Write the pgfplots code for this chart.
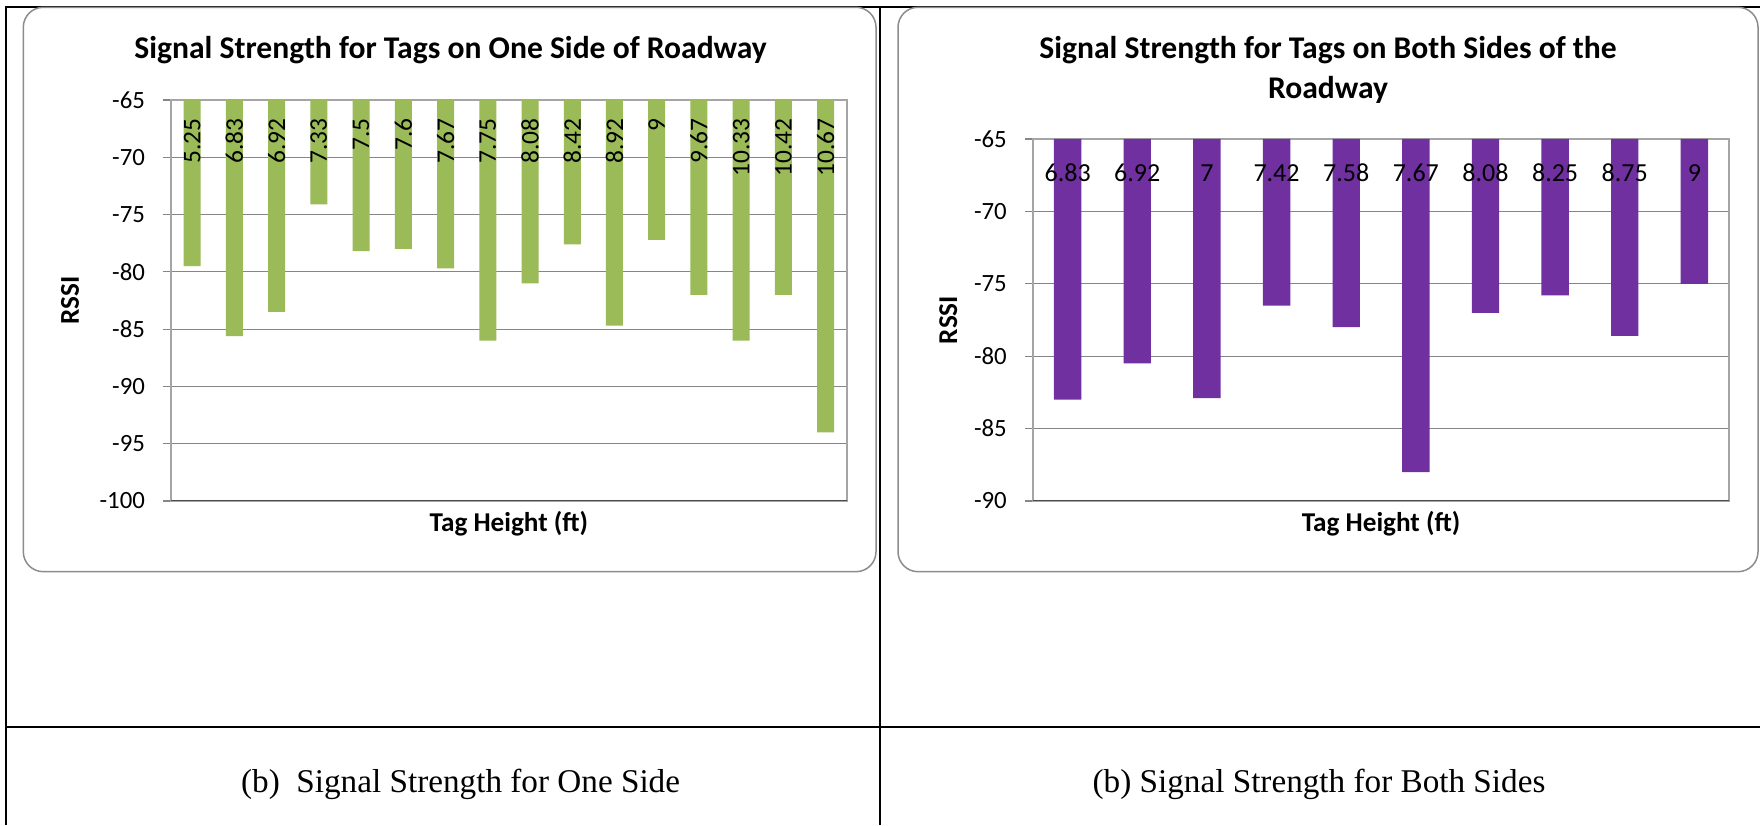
\documentclass[border=0pt]{standalone}
\usepackage{fontspec}
\setmainfont{Carlito}
\newfontfamily\timesfont{Liberation Serif}
\usepackage{pgfplots}
\pgfplotsset{compat=1.18}
\usepackage{pgfplotstable}
\definecolor{barG}{RGB}{155,187,89}
\definecolor{barP}{RGB}{112,48,160}
\definecolor{gridC}{RGB}{134,134,134}
\definecolor{boxC}{RGB}{140,140,140}
\definecolor{yaxC}{RGB}{165,165,165}

\pgfplotstableread{
x lab y
0 5.25 -79.5
1 6.83 -85.6
2 6.92 -83.5
3 7.33 -74.1
4 7.5 -78.2
5 7.6 -78.0
6 7.67 -79.7
7 7.75 -86.0
8 8.08 -81.0
9 8.42 -77.6
10 8.92 -84.7
11 9 -77.2
12 9.67 -82.0
13 10.33 -86.0
14 10.42 -82.0
15 10.67 -94.0
}\tabL

\pgfplotstableread{
x lab y
0 6.83 -83.0
1 6.92 -80.5
2 7 -82.9
3 7.42 -76.5
4 7.58 -78.0
5 7.67 -88.0
6 8.08 -77.0
7 8.25 -75.8
8 8.75 -78.6
9 9 -75.0
}\tabR

\pgfplotsset{rssi/.style={
  scale only axis, anchor=south west,
  xtick=\empty, ytick distance=5,
  ymajorgrids, grid style={gridC, line width=0.6pt},
  x axis line style={draw=gridC, line width=0.6pt},
  y axis line style={draw=yaxC, line width=0.9pt},
  ytick pos=left, tick align=outside, major tick length=4pt,
  ytick style={gridC, line width=0.6pt},
  /pgf/number format/assume math mode=true,
  yticklabel style={font=\fontsize{12.4}{14}\selectfont, xshift=-5.5pt},
  xlabel={Tag Height (ft)}, ylabel={RSSI},
  every axis x label/.style={at={(axis description cs:0.5,0)}, yshift=-11.5pt, anchor=center, font=\bfseries\fontsize{13.6}{16}\selectfont},
}}

\begin{document}
\begin{tikzpicture}
\useasboundingbox (0pt,0pt) rectangle (880pt,412.5pt);
% table lines
\draw[black, line width=1pt] (3pt,0pt) -- (3pt,409.2pt) -- (880pt,409.2pt);
\draw[black, line width=1pt] (440pt,0pt) -- (440pt,409.2pt);
\draw[black, line width=1.1pt] (3pt,49.2pt) -- (880pt,49.2pt);
% chart boxes
\draw[boxC, line width=0.75pt, rounded corners=10pt, fill=white] (11.65pt,126.65pt) rectangle (438pt,408.85pt);
\draw[boxC, line width=0.75pt, rounded corners=10pt, fill=white] (449pt,126.65pt) rectangle (879pt,408.85pt);

% left chart
\begin{axis}[rssi, at={(85.5pt,162pt)}, width=337.9pt, height=200.5pt,
  xmin=-0.5, xmax=15.5, ymin=-100, ymax=-65,
  every axis y label/.style={at={(axis description cs:0,0.5)}, xshift=-50.5pt, rotate=90, anchor=center, font=\bfseries\fontsize{13.6}{16}\selectfont}]
  \addplot[ybar, bar width=8.5pt, fill=barG, draw=none] table[x=x, y=y] {\tabL};
  \addplot[draw=none, mark=none, nodes near coords, point meta=explicit symbolic,
    every node near coord/.style={anchor=east, rotate=90, inner sep=0pt, font=\fontsize{12.7}{14}\selectfont}]
    table[x=x, y expr=-66.57, meta=lab] {\tabL};
  \draw[black!70, line width=0.8pt] (rel axis cs:0,0) -- (rel axis cs:1,0);
\end{axis}

% right chart
\begin{axis}[rssi, at={(516.4pt,162pt)}, width=348.2pt, height=181pt,
  xmin=-0.5, xmax=9.5, ymin=-90, ymax=-65,
  every axis y label/.style={at={(axis description cs:0,0.5)}, xshift=-42.3pt, rotate=90, anchor=center, font=\bfseries\fontsize{13.6}{16}\selectfont}]
  \addplot[ybar, bar width=13.7pt, fill=barP, draw=none] table[x=x, y=y] {\tabR};
  \addplot[draw=none, mark=none, nodes near coords, point meta=explicit symbolic,
    every node near coord/.style={anchor=center, inner sep=0pt, font=\fontsize{13}{15}\selectfont}]
    table[x=x, y expr=-67.35, meta=lab] {\tabR};
  \draw[black!70, line width=0.8pt] (rel axis cs:0,0) -- (rel axis cs:1,0);
\end{axis}

% titles
\node[font=\bfseries\fontsize{15.8}{19.75}\selectfont, anchor=center] at (225.3pt,387.3pt) {Signal Strength for Tags on One Side of Roadway};
\node[font=\bfseries\fontsize{15.8}{19.75}\selectfont, anchor=center, align=center] at (664pt,377.5pt) {Signal Strength for Tags on Both Sides of the\\Roadway};

% captions
\node[font=\timesfont\fontsize{16.6}{19}\selectfont, anchor=center] at (230.3pt,20.5pt) {(b)\ \ Signal Strength for One Side};
\node[font=\timesfont\fontsize{16.6}{19}\selectfont, anchor=center] at (659.5pt,20.5pt) {(b)\ Signal Strength for Both Sides};
\end{tikzpicture}
\end{document}
